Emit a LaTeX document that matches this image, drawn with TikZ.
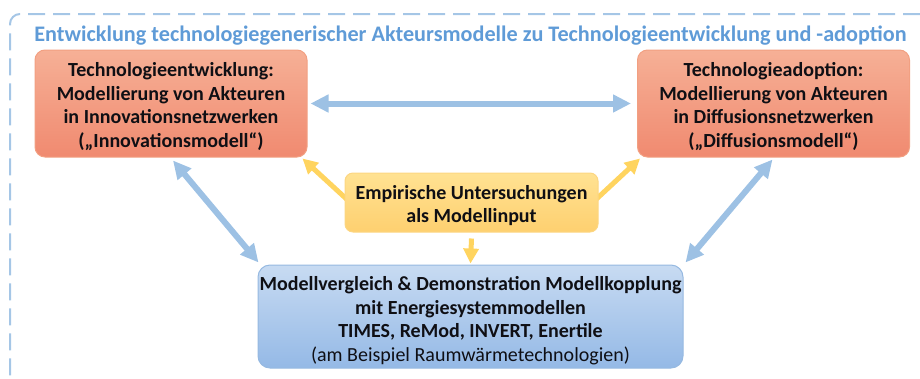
\documentclass[tikz,border=0pt]{standalone}
\usepackage{fontspec}
\setmainfont{Carlito}
\usetikzlibrary{arrows.meta}
\definecolor{framecol}{RGB}{165,198,230}
\definecolor{titlecol}{RGB}{95,155,215}
\definecolor{redtop}{RGB}{246,176,150}
\definecolor{redbot}{RGB}{240,138,112}
\definecolor{redline}{RGB}{242,160,130}
\definecolor{yeltop}{RGB}{255,226,146}
\definecolor{yelbot}{RGB}{254,208,112}
\definecolor{yelline}{RGB}{252,214,130}
\definecolor{blutop}{RGB}{200,219,242}
\definecolor{blubot}{RGB}{148,185,230}
\definecolor{bluline}{RGB}{150,185,225}
\definecolor{bluarrow}{RGB}{157,193,228}
\definecolor{yelarrow}{RGB}{255,212,95}
\definecolor{txt}{RGB}{15,15,20}
\pgfdeclarelayer{bg}
\pgfsetlayers{bg,main}
\begin{document}
\begin{tikzpicture}[x=1pt,y=-1pt,
  box/.style={rounded corners=10pt, draw, line width=1pt, align=center, inner sep=0pt, text=txt,
    font=\fontsize{20}{23.5}\selectfont\bfseries},
  redbox/.style={box, draw=redline, top color=redtop, bottom color=redbot,
    minimum width=272pt, minimum height=107pt},
  yelbox/.style={box, rounded corners=8pt, draw=yelline, top color=yeltop, bottom color=yelbot,
    minimum width=253pt, minimum height=59pt},
  blubox/.style={box, rounded corners=12pt, draw=bluline, top color=blutop, bottom color=blubot,
    minimum width=425pt, minimum height=103pt},
  barrow/.style={draw=bluarrow, line width=6pt,
    {Triangle[width=17pt,length=18pt]}-{Triangle[width=17pt,length=18pt]}},
  yarrow/.style={draw=yelarrow, line width=5pt, -{Triangle[width=15pt,length=15pt]}},
  frame/.style={draw=framecol, line width=2pt, dash pattern=on 17pt off 8pt, rounded corners=10pt},
  titlestyle/.style={text=titlecol, font=\fontsize{22.2}{25}\selectfont\bfseries, inner sep=0pt}
]
\useasboundingbox (0,0) rectangle (920,378);
\begin{scope}
\clip (0,0) rectangle (920,378);
\draw[frame] (945,14) -- (10,14) -- (10,400);
\end{scope}

\node[titlestyle, anchor=center] (title) at (470.5,36)
  {Entwicklung technologiegenerischer Akteursmodelle zu Technologieentwicklung und -adoption};

\node[redbox] (L) at (171,103.5)
  {\rule{0pt}{20pt}Technologieentwicklung:\\Modellierung von Akteuren\\in Innovationsnetzwerken\\(„Innovationsmodell“)};
\node[redbox] (R) at (773.5,103.5)
  {\rule{0pt}{20pt}Technologieadoption:\\Modellierung von Akteuren\\in Diffusionsnetzwerken\\(„Diffusionsmodell“)};
\node[yelbox] (Y) at (471.5,202.5)
  {\rule{0pt}{20pt}Empirische Untersuchungen\\als Modellinput};
\node[blubox] (B) at (470.5,316.5)
  {\rule{0pt}{22pt}Modellvergleich \& Demonstration Modellkopplung\\mit Energiesystemmodellen\\TIMES, ReMod, INVERT, Enertile\\{\mdseries (am Beispiel Raumwärmetechnologien)}};

\begin{pgfonlayer}{bg}
\draw[barrow] ([xshift=3pt]L.east) -- ([xshift=-6pt]R.west);
\draw[barrow] ([xshift=2pt,yshift=-3pt]L.south) -- ([xshift=1pt,yshift=2pt]B.north west);
\draw[barrow] ([xshift=-1pt,yshift=-2pt]R.south) -- ([xshift=2pt,yshift=2pt]B.north east);
\draw[yarrow] ([xshift=8pt,yshift=-2pt]Y.west) -- ([xshift=-5pt,yshift=-1pt]L.south east);
\draw[yarrow] ([xshift=-8pt,yshift=-2pt]Y.east) -- ([xshift=3pt,yshift=-1pt]R.south west);
\draw[yarrow] ([yshift=-6pt]Y.south) -- ([yshift=1pt]B.north);
\end{pgfonlayer}
\end{tikzpicture}
\end{document}
